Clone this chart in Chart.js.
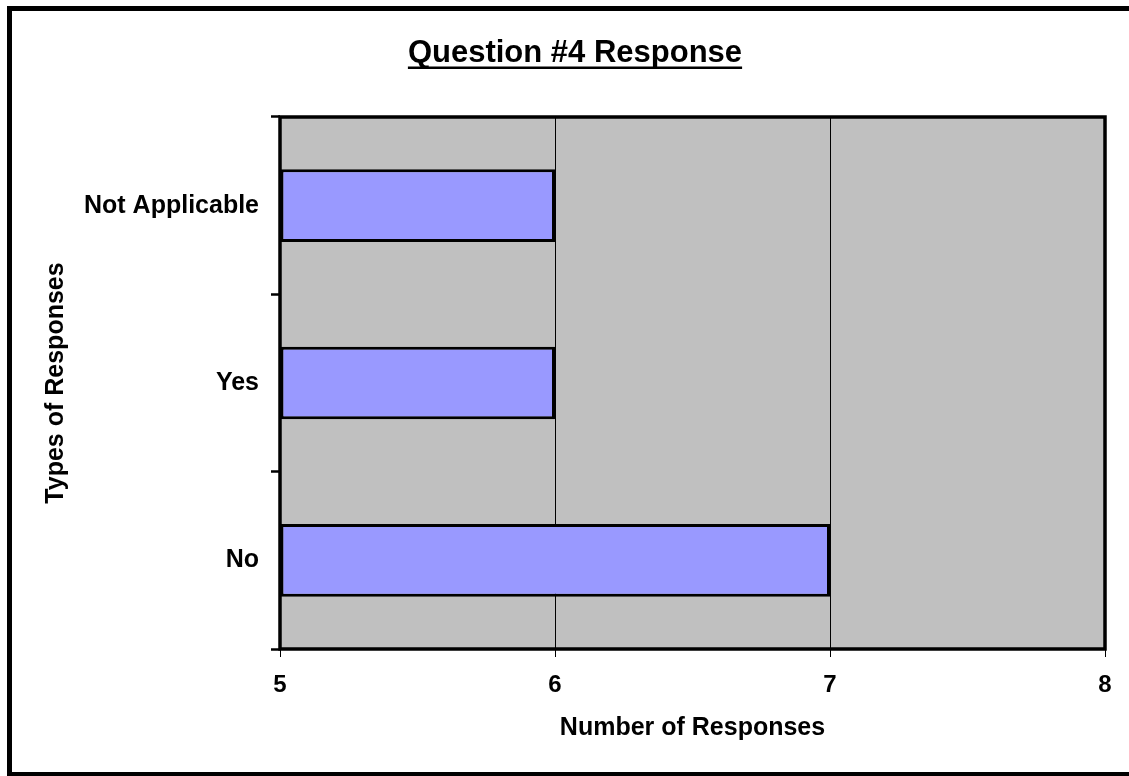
<!DOCTYPE html>
<html>
<head>
<meta charset="utf-8">
<title>Question #4 Response</title>
<script src="https://cdn.jsdelivr.net/npm/chart.js@4/dist/chart.umd.min.js"></script>
<style>
  html, body { margin: 0; padding: 0; background: #ffffff; }
  #wrap { width: 1129px; height: 776px; }
</style>
</head>
<body>
<div id="wrap"><canvas id="chart" width="1129" height="776"></canvas></div>
<script>
// Response categories, listed top to bottom
const categories = ['Not Applicable', 'Yes', 'No'];
// Number of responses per category
const responses = [6, 6, 7];
// Value axis range and tick step
const axisMin = 5;
const axisMax = 8;
const axisStep = 1;

const chartTitle = 'Question #4 Response';
const xTitle = 'Number of Responses';
const yTitle = 'Types of Responses';

const FONT = "'Liberation Sans', Arial, sans-serif";

// Paints the page background, the grey plot area, the plot frame, the
// underlined title and the outer border.
const decor = {
  id: 'decor',
  beforeDraw(chart) {
    const { ctx, chartArea: a, width, height } = chart;
    ctx.save();
    ctx.fillStyle = '#ffffff';
    ctx.fillRect(0, 0, width, height);
    ctx.fillStyle = '#C0C0C0';
    ctx.fillRect(a.left, a.top, a.right - a.left, a.bottom - a.top);
    ctx.restore();
  },
  afterDatasetsDraw(chart) {
    const { ctx, chartArea: a } = chart;
    ctx.save();
    ctx.strokeStyle = '#000000';
    ctx.lineWidth = 3.5;
    ctx.strokeRect(a.left, a.top, a.right - a.left, a.bottom - a.top);
    ctx.restore();
  },
  afterDraw(chart) {
    const { ctx } = chart;
    ctx.save();
    // title with underline
    ctx.font = 'bold 31px ' + FONT;
    ctx.fillStyle = '#000000';
    ctx.textAlign = 'center';
    ctx.textBaseline = 'alphabetic';
    const cx = 575, base = 62;
    ctx.fillText(chartTitle, cx, base);
    const w = ctx.measureText(chartTitle).width;
    ctx.fillRect(cx - w / 2, 66.5, w, 2.5);
    // outer border
    ctx.strokeStyle = '#000000';
    ctx.lineWidth = 5;
    ctx.strokeRect(9.5, 8.5, 1130, 766);
    ctx.restore();
  }
};

new Chart(document.getElementById('chart'), {
  type: 'bar',
  data: {
    labels: categories,
    datasets: [{
      data: responses,
      base: axisMin,
      backgroundColor: '#9999FF',
      borderColor: '#000000',
      borderWidth: 3,
      borderSkipped: false,
      categoryPercentage: 1,
      barPercentage: 0.41
    }]
  },
  options: {
    indexAxis: 'y',
    responsive: false,
    animation: false,
    events: [],
    layout: { padding: { left: 0, right: 24, top: 117, bottom: 0 } },
    plugins: {
      legend: { display: false },
      title: { display: false },
      tooltip: { enabled: false }
    },
    scales: {
      x: {
        type: 'linear',
        min: axisMin,
        max: axisMax,
        ticks: {
          stepSize: axisStep,
          color: '#000000',
          font: { family: FONT, size: 24, weight: 'bold' },
          padding: 14
        },
        grid: {
          color: '#000000',
          lineWidth: 1,
          tickLength: 8,
          tickColor: '#000000',
          tickWidth: 1
        },
        border: { display: false },
        title: {
          display: true,
          text: xTitle,
          color: '#000000',
          font: { family: FONT, size: 25, weight: 'bold' },
          padding: { top: 0, bottom: 33 }
        },
        afterFit(scale) { scale.height = 127; }
      },
      y: {
        type: 'category',
        ticks: {
          color: '#000000',
          font: { family: FONT, size: 25, weight: 'bold' },
          padding: 12
        },
        grid: {
          offset: true,
          drawOnChartArea: false,
          tickLength: 9,
          tickColor: '#000000',
          tickWidth: 2.5,
          color: '#000000'
        },
        border: { display: false },
        title: {
          display: true,
          text: yTitle,
          color: '#000000',
          font: { family: FONT, size: 25, weight: 'bold' },
          padding: { top: 41, bottom: 0 }
        },
        afterFit(scale) { scale.width = 280; }
      }
    }
  },
  plugins: [decor]
});
</script>
</body>
</html>
